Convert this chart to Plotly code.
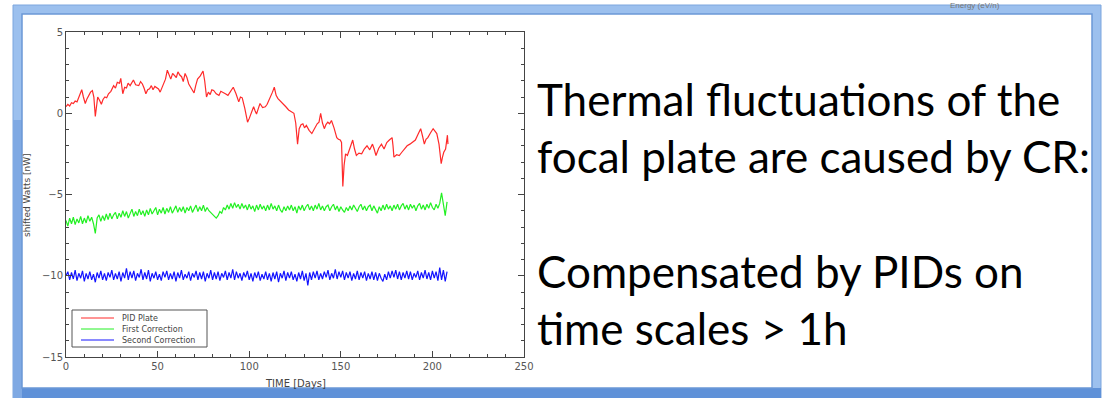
import plotly.graph_objects as go

# ---------------- data ----------------
series_names = ["PID Plate", "First Correction", "Second Correction"]
series_colors = ["#ff2a2a", "#22f022", "#1414ff"]

red_days = [0, 1, 2, 3, 4, 5, 6, 7, 8, 8.6,
            9.5, 10.5, 11.5, 12.5, 13.4, 14.4, 15.2, 16, 16.7, 17.3,
            18.3, 19.3, 20.2, 21.2, 22.2, 23.2, 24.5, 26, 27, 28,
            29.2, 29.9, 31, 32, 33, 33.9, 35, 36.8, 38, 39.7,
            40.7, 41.7, 42.6, 43.6, 44.6, 45.6, 46.6, 47.5, 48.5, 49.5,
            50.5, 51.4, 52.3, 53.3, 54.3, 55.3, 56.2, 57.2, 58.2, 59.2,
            60.2, 61.1, 62.1, 63.1, 64, 65, 66, 67, 68.5, 69.9,
            70.8, 71.8, 73.3, 74.8, 75.7, 76.7, 77.7, 78.7, 79.6, 80.6,
            82, 83.5, 84.5, 85.5, 87, 88.4, 89.8, 91.3, 92.8, 94.3,
            95.2, 96.2, 97.6, 99.1, 100.1, 101.1, 102.4, 103.2, 104, 105,
            105.9, 107.3, 108.8, 109.8, 110.8, 111.7, 112.7, 113.7, 114.7, 115.7,
            117.1, 118.6, 120, 121.5, 123, 124.4, 125.4, 126.4, 127.3, 128.3,
            129.3, 130.2, 131.2, 132.7, 134.2, 135.6, 137.1, 138.1, 139, 140,
            141, 141.9, 142.9, 143.9, 144.9, 146.3, 147.8, 148.7, 149.7, 150.4,
            151.1, 151.8, 152.6, 153.6, 154.6, 155.5, 156.5, 157.5, 158.5, 159.9,
            161.4, 162.8, 164.3, 165.8, 167.3, 168.2, 169.2, 170.7, 172.2, 173.6,
            175.1, 176.5, 178, 178.5, 179, 180.5, 181.9, 183.3, 184.8, 186.2,
            187.7, 189.2, 190.7, 192.1, 193.6, 194.6, 195.6, 196.5, 197.5, 199,
            200.4, 201.4, 202.4, 203.6, 204.8, 205.5, 206.2, 207.2, 208.2, 208.5]

red_vals = [0.4, 0.55, 0.45, 0.65, 0.6, 0.75, 0.7, 0.95, 1.2, 1.45,
            1.0, 0.6, 0.9, 1.15, 1.3, 1.4, 1.0, -0.2, 0.5, 1.0,
            0.8, 0.55, 0.85, 1.0, 0.95, 1.2, 1.35, 1.7, 1.55, 1.9,
            1.85, 2.15, 1.2, 1.6, 1.55, 1.85, 1.7, 2.05, 1.75, 1.7,
            1.95, 1.8, 1.55, 1.2, 1.45, 1.5, 1.7, 1.45, 1.65, 1.6,
            1.5, 1.3, 1.55, 1.8, 2.1, 2.65, 2.4, 2.1, 2.45, 2.35,
            2.2, 2.55, 2.35, 2.25, 1.95, 2.45, 2.2, 1.8, 1.55, 1.25,
            1.7, 2.1, 2.3, 2.6, 2.0, 1.0, 1.3, 1.15, 1.45, 1.4,
            1.2, 1.1, 1.35, 1.3, 1.2, 1.1, 1.35, 1.6, 1.2, 0.7,
            1.0, 0.95, 0.3, -0.55, -0.3, 0.0, 0.4, 0.15, -0.05, 0.3,
            0.6, 0.35, 0.4, 0.55, 0.8, 0.95, 1.3, 1.6, 1.1, 0.9,
            0.75, 0.6, 0.4, 0.2, 0.1, 0.0, -0.6, -1.9, -0.95, -0.7,
            -0.65, -0.9, -0.75, -1.05, -1.25, -0.95, -0.65, -0.55, 0.0, -0.6,
            -0.95, -0.7, -0.55, -0.65, -0.45, -0.9, -1.5, -1.6, -1.65, -1.8,
            -4.5, -3.2, -2.5, -2.6, -2.3, -1.95, -1.65, -2.2, -2.6, -2.45,
            -2.5, -2.2, -2.0, -2.25, -1.9, -2.2, -2.6, -2.15, -1.9, -2.2,
            -1.8, -1.65, -1.5, -2.0, -2.7, -2.55, -2.6, -2.4, -2.2, -2.0,
            -1.9, -1.8, -1.65, -1.3, -0.95, -1.4, -1.9, -1.6, -1.5, -1.2,
            -0.95, -1.1, -1.25, -1.9, -3.1, -2.7, -2.4, -2.2, -1.35, -1.9]

corr_days = list(range(0, 209))

green_vals = [-6.6, -6.95, -6.45, -6.8, -6.4, -6.85, -6.5, -6.75, -6.35, -6.8, -6.45,
              -6.75, -6.3, -6.65, -6.4, -6.8, -7.4, -6.45, -6.25, -6.65, -6.3, -6.6,
              -6.2, -6.55, -6.15, -6.5, -6.25, -6.1, -6.5, -6.15, -6.4, -6.0, -6.35,
              -6.05, -6.45, -6.1, -5.9, -6.35, -6.05, -6.3, -5.9, -6.25, -6.0, -6.35,
              -5.95, -6.25, -5.85, -6.2, -6.0, -5.8, -6.25, -5.9, -6.15, -5.8, -6.2,
              -5.85, -6.1, -5.75, -6.15, -5.9, -5.7, -6.1, -5.8, -6.05, -5.75, -6.15,
              -5.8, -6.0, -5.7, -6.1, -5.85, -5.65, -6.05, -5.75, -6.0, -5.65, -6.05,
              -5.8, -6.0, -6.1, -6.2, -6.3, -6.45, -6.3, -6.05, -6.15, -5.8, -5.95,
              -5.65, -5.9, -5.55, -5.85, -5.5, -5.8, -5.6, -5.9, -5.55, -5.85, -5.65,
              -5.95, -5.6, -5.9, -5.7, -6.05, -5.65, -5.95, -5.6, -5.9, -5.7, -6.0,
              -5.65, -5.95, -5.55, -5.9, -5.7, -6.0, -5.65, -5.95, -6.1, -5.75, -6.0,
              -5.7, -5.95, -5.65, -6.0, -5.75, -6.15, -5.7, -5.95, -5.65, -6.0, -5.75,
              -5.6, -5.95, -5.7, -6.0, -5.65, -5.9, -5.55, -5.95, -5.7, -6.0, -5.75,
              -5.65, -6.0, -5.75, -5.6, -5.95, -5.7, -6.05, -5.75, -5.95, -6.1, -5.8,
              -6.0, -5.7, -5.95, -5.65, -5.9, -6.05, -5.75, -5.6, -5.95, -5.7, -6.0,
              -5.75, -5.65, -6.0, -5.7, -5.9, -6.15, -5.75, -6.0, -5.65, -5.95, -5.6,
              -5.9, -5.7, -6.0, -5.65, -5.9, -5.6, -5.95, -5.7, -5.55, -5.9, -5.65,
              -5.95, -5.6, -5.85, -5.65, -6.0, -5.7, -5.55, -5.9, -5.65, -5.95, -5.6,
              -5.85, -5.5, -5.8, -5.95, -5.6, -5.85, -5.55, -4.9, -5.65, -6.3, -5.45]

blue_vals = [-10.0, -9.75, -10.25, -9.8, -10.2, -9.65, -10.3, -9.85, -10.15, -9.7, -10.35,
             -9.85, -10.2, -9.75, -10.25, -9.9, -10.4, -9.8, -10.15, -9.7, -10.25, -9.85,
             -10.3, -9.8, -10.1, -9.65, -10.25, -9.85, -10.2, -9.75, -10.35, -9.8, -10.15,
             -9.55, -10.25, -9.75, -10.15, -9.7, -10.3, -9.85, -10.1, -9.6, -10.25, -9.8,
             -10.2, -9.65, -10.35, -9.85, -10.15, -9.75, -10.25, -9.9, -10.3, -9.75, -10.1,
             -9.7, -10.25, -9.85, -10.2, -9.75, -10.35, -9.8, -10.15, -9.65, -10.25, -9.9,
             -10.15, -9.75, -10.3, -9.85, -10.1, -9.7, -10.25, -9.8, -10.2, -9.75, -10.35,
             -9.85, -10.15, -9.65, -10.25, -9.8, -10.2, -9.75, -10.3, -9.85, -10.1, -9.7,
             -10.25, -9.8, -10.15, -9.6, -10.25, -9.75, -10.15, -9.85, -10.3, -9.8, -10.1,
             -9.7, -10.25, -9.85, -10.35, -9.8, -10.15, -9.75, -10.3, -9.9, -10.2, -9.75,
             -10.25, -9.85, -10.35, -9.8, -10.2, -9.75, -10.4, -9.85, -10.15, -9.7, -10.3,
             -9.8, -10.15, -9.75, -10.25, -9.9, -10.35, -9.8, -10.2, -9.7, -10.3, -9.85,
             -10.6, -9.8, -10.25, -9.75, -10.15, -9.7, -10.25, -9.85, -10.2, -9.75, -10.1,
             -9.65, -10.25, -9.85, -10.15, -9.6, -10.2, -9.75, -10.1, -9.7, -10.25, -9.8,
             -10.15, -9.75, -10.3, -9.85, -10.2, -9.7, -10.25, -9.8, -10.15, -9.75, -10.3,
             -9.85, -10.2, -9.75, -10.25, -9.8, -10.3, -9.85, -10.15, -10.35, -9.9, -10.25,
             -9.75, -10.15, -9.7, -10.1, -9.65, -10.2, -9.75, -10.25, -9.8, -10.15, -9.7,
             -10.2, -9.75, -10.25, -9.85, -10.1, -9.7, -10.25, -9.8, -10.15, -9.65, -10.2,
             -9.8, -10.25, -9.7, -10.15, -9.75, -10.3, -9.5, -10.25, -9.65, -10.35, -9.75]

x_ticks = [0, 50, 100, 150, 200, 250]
y_ticks = [-15, -10, -5, 0, 5]
x_title = "TIME [Days]"
y_title = "shifted Watts [nW]"
slide_lines = ["Thermal fluctuations of the",
               "focal plate are caused by CR:",
               "Compensated by PIDs on",
               "time scales > 1h"]
corner_text = "Energy (eV/n)"

# ---------------- layout geometry (pixels) ----------------
W, H = 1106, 398
L, R, T, B = 66, 524, 32, 357


def px(xp):
    return (xp - L) / (R - L)


def py(yp):
    return (B - yp) / (B - T)


fig = go.Figure()
for name, col, xs, ys in zip(series_names, series_colors,
                             [red_days, corr_days, corr_days],
                             [red_vals, green_vals, blue_vals]):
    fig.add_trace(go.Scatter(x=xs, y=ys, mode="lines", name=name,
                             line=dict(color=col, width=1.2), showlegend=False))

shapes = []
# slide frame
shapes.append(dict(type="rect", xref="paper", yref="paper", layer="below",
                   x0=px(13), x1=px(1101), y0=py(5), y1=py(400),
                   fillcolor="#9cc0ee", line=dict(color="#7ca6de", width=1)))
shapes.append(dict(type="rect", xref="paper", yref="paper", layer="below",
                   x0=px(13), x1=px(1101), y0=py(388), y1=py(400),
                   fillcolor="#5f91d8", line=dict(width=0)))
shapes.append(dict(type="rect", xref="paper", yref="paper", layer="below",
                   x0=px(13), x1=px(22), y0=py(120), y1=py(398),
                   fillcolor="#7fa9e3", line=dict(width=0)))
shapes.append(dict(type="rect", xref="paper", yref="paper", layer="below",
                   x0=px(22), x1=px(1092), y0=py(14), y1=py(388),
                   fillcolor="white", line=dict(color="#6b98d6", width=1.5)))

# legend box (manual)
lx0, lx1, ly0 = 72, 207, 310
shapes.append(dict(type="rect", xref="paper", yref="paper",
                   x0=px(lx0), x1=px(lx1), y0=py(ly0), y1=py(347),
                   fillcolor="white", line=dict(color="#555555", width=1)))
annotations = []
for i, (name, col) in enumerate(zip(series_names, series_colors)):
    yy = 318 + i * 11
    shapes.append(dict(type="line", xref="paper", yref="paper",
                       x0=px(81), x1=px(114), y0=py(yy), y1=py(yy),
                       line=dict(color=col, width=1)))
    annotations.append(dict(xref="paper", yref="paper", x=px(120), y=py(yy),
                            xanchor="left", yanchor="middle", showarrow=False,
                            text=name, font=dict(family="DejaVu Sans", size=8, color="#444")))

# axis titles
annotations.append(dict(xref="paper", yref="paper", x=px(295), y=py(383),
                        xanchor="center", yanchor="middle", showarrow=False,
                        text=x_title, font=dict(family="DejaVu Sans", size=10, color="#444")))
annotations.append(dict(xref="paper", yref="paper", x=px(27), y=py(195),
                        xanchor="center", yanchor="middle", showarrow=False, textangle=-90,
                        text=y_title, font=dict(family="DejaVu Sans", size=9, color="#444")))

# slide text
line_centers = [99, 156, 271, 328]
for txt, yc in zip(slide_lines, line_centers):
    annotations.append(dict(xref="paper", yref="paper", x=px(535), y=py(yc),
                            xanchor="left", yanchor="middle", showarrow=False,
                            text=txt, font=dict(family="Lato", size=44, color="black")))

annotations.append(dict(xref="paper", yref="paper", x=px(975), y=py(5),
                        xanchor="center", yanchor="middle", showarrow=False,
                        text=corner_text, font=dict(family="Liberation Sans", size=8, color="#777")))

fig.update_layout(
    width=W, height=H,
    margin=dict(l=L, r=W - R, t=T, b=H - B, pad=0),
    paper_bgcolor="white", plot_bgcolor="rgba(0,0,0,0)",
    shapes=shapes, annotations=annotations, showlegend=False,
    xaxis=dict(range=[0, 250], tickvals=x_ticks, showgrid=False, zeroline=False,
               showline=True, linecolor="#444", linewidth=1, mirror="ticks",
               ticks="inside", ticklen=6, tickcolor="#444",
               minor=dict(ticks="inside", ticklen=3, dtick=10, tickcolor="#444", showgrid=False),
               tickfont=dict(family="DejaVu Sans", size=10, color="#555")),
    yaxis=dict(range=[-15, 5], tickvals=y_ticks, showgrid=False, zeroline=False,
               showline=True, linecolor="#444", linewidth=1, mirror="ticks",
               ticks="inside", ticklen=6, tickcolor="#444",
               minor=dict(ticks="inside", ticklen=3, dtick=1, tickcolor="#444", showgrid=False),
               tickfont=dict(family="DejaVu Sans", size=10, color="#555")),
)

fig.write_html("out.html")
